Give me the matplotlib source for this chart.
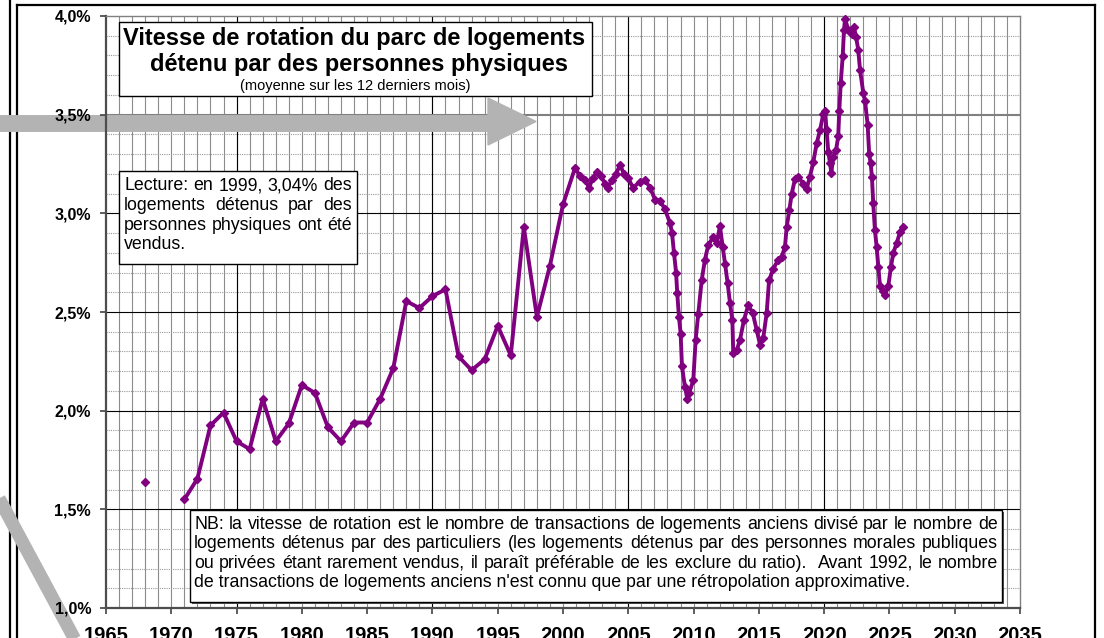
import matplotlib
matplotlib.use("Agg")
import matplotlib.pyplot as plt
import numpy as np
from matplotlib.patches import Rectangle, Polygon
from matplotlib.lines import Line2D

plt.rcParams['font.family'] = ['Liberation Sans', 'DejaVu Sans']

W, H = 1104, 638

# annual values (1969-1970 missing)
annual_years = list(range(1968, 2001))
annual_rate = [1.64, np.nan, np.nan, 1.55, 1.655, 1.925, 1.99, 1.845, 1.805, 2.06,
               1.845, 1.935, 2.13, 2.09, 1.915, 1.845, 1.94, 1.94, 2.06, 2.215,
               2.555, 2.52, 2.58, 2.615, 2.275, 2.205, 2.26, 2.43, 2.28, 2.93,
               2.475, 2.735, 3.045]

# sliding 12-month average
recent_dates = [2000.92, 2001.30, 2001.69, 2001.99, 2002.30, 2002.60, 2002.91, 2003.22,
                2003.45, 2003.75, 2004.06, 2004.37, 2004.67, 2004.98, 2005.36, 2005.89,
                2006.28, 2006.66, 2007.05, 2007.43, 2007.81, 2008.20, 2008.35, 2008.50,
                2008.66, 2008.75, 2008.88, 2009.01, 2009.11, 2009.34, 2009.52, 2009.67,
                2009.98, 2010.16, 2010.36, 2010.62, 2010.87, 2011.13, 2011.51, 2011.77,
                2012.02, 2012.23, 2012.41, 2012.61, 2012.79, 2012.97, 2013.04, 2013.30,
                2013.56, 2013.86, 2014.19, 2014.53, 2014.83, 2015.09, 2015.34, 2015.60,
                2015.78, 2016.11, 2016.49, 2016.75, 2017.00, 2017.13, 2017.33, 2017.52,
                2017.77, 2018.02, 2018.40, 2018.66, 2018.91, 2019.17, 2019.43, 2019.68,
                2019.94, 2020.07, 2020.19, 2020.32, 2020.45, 2020.55, 2020.70, 2020.91,
                2021.08, 2021.16, 2021.27, 2021.42, 2021.52, 2021.60, 2021.85, 2022.10,
                2022.28, 2022.44, 2022.61, 2022.75, 2023.00, 2023.13, 2023.33, 2023.45,
                2023.56, 2023.66, 2023.76, 2023.89, 2024.02, 2024.15, 2024.28, 2024.48,
                2024.66, 2024.91, 2025.12, 2025.30, 2025.56, 2025.81, 2026.06]
recent_rate = [3.23, 3.19, 3.17, 3.13, 3.18, 3.21, 3.19, 3.15,
               3.13, 3.17, 3.20, 3.245, 3.20, 3.18, 3.13, 3.16,
               3.17, 3.13, 3.07, 3.065, 3.02, 2.95, 2.90, 2.80,
               2.70, 2.595, 2.475, 2.39, 2.225, 2.12, 2.06, 2.09,
               2.155, 2.36, 2.49, 2.66, 2.765, 2.84, 2.88, 2.85,
               2.935, 2.83, 2.745, 2.645, 2.545, 2.46, 2.29, 2.305,
               2.36, 2.46, 2.535, 2.495, 2.41, 2.335, 2.37, 2.495,
               2.66, 2.72, 2.765, 2.78, 2.83, 2.93, 3.015, 3.10,
               3.175, 3.185, 3.15, 3.125, 3.185, 3.26, 3.355, 3.42,
               3.505, 3.52, 3.42, 3.31, 3.255, 3.205, 3.285, 3.32,
               3.39, 3.52, 3.66, 3.795, 3.93, 3.985, 3.93, 3.91,
               3.945, 3.895, 3.83, 3.725, 3.61, 3.57, 3.45, 3.30,
               3.255, 3.185, 3.05, 2.915, 2.83, 2.73, 2.63, 2.605,
               2.585, 2.63, 2.73, 2.80, 2.85, 2.905, 2.93]

y_ticks = [1.0, 1.5, 2.0, 2.5, 3.0, 3.5, 4.0]
x_ticks = list(range(1965, 2036, 5))

title_lines = ["Vitesse de rotation du parc de logements",
               "détenu par des personnes physiques"]
subtitle = "(moyenne sur les 12 derniers mois)"
lecture_lines = ["Lecture: en 1999, 3,04% des",
                 "logements détenus par des",
                 "personnes physiques ont été",
                 "vendus."]
nb_lines = ["NB: la vitesse de rotation est le nombre de transactions de logements anciens divisé par le nombre de",
            "logements détenus par des particuliers (les logements détenus par des personnes morales publiques",
            "ou privées étant rarement vendus, il paraît préférable de les exclure du ratio).  Avant 1992, le nombre",
            "de transactions de logements anciens n'est connu que par une rétropolation approximative."]


def fx(x):
    return x / W


def fy(y):
    return 1 - y / H


fig = plt.figure(figsize=(W / 100, H / 100), dpi=100)
ax = fig.add_axes([fx(106), fy(608), (1020 - 106) / W, (608 - 16) / H])
ax.set_autoscale_on(False)
ax.set_xlim(1965, 2035)
ax.set_ylim(1.0, 4.0)

# grid
for yr in range(1966, 2035):
    ax.axvline(yr, color='#8c8c8c', lw=0.8, zorder=0.5)
for yr in (1975, 1990, 2005, 2020):
    ax.axvline(yr, color='black', lw=0.8, zorder=0.6)
for k in range(11, 40):
    v = k / 10
    if k % 5:
        ax.axhline(v, color='#9a9a9a', lw=0.8, ls=(0, (1, 1)), zorder=0.5)
    elif k == 35:
        ax.axhline(v, color='#808080', lw=1.5, zorder=0.6)
    else:
        ax.axhline(v, color='black', lw=0.8, zorder=0.6)

xs = annual_years + recent_dates
ys = annual_rate + recent_rate
ax.plot(xs, ys, color='#800080', lw=2.8, marker='D', ms=4, mec='#800080', mew=1,
        zorder=3, clip_on=False)

for s in ('left', 'bottom'):
    ax.spines[s].set_color('#4d4d4d')
    ax.spines[s].set_linewidth(1.6)
for s in ('top', 'right'):
    ax.spines[s].set_color('#808080')
    ax.spines[s].set_linewidth(1)

ax.set_yticks(y_ticks, [f"{v:.1f}%".replace('.', ',') for v in y_ticks],
              fontsize=11.5, fontweight='bold')
ax.set_xticks(x_ticks, [str(v) for v in x_ticks], fontsize=14.5, fontweight='bold')
ax.tick_params(axis='both', direction='out', length=4.3, width=1.1, color='#333333')
ax.tick_params(axis='x', pad=9)
ax.tick_params(axis='y', pad=6.5)

# grey arrows (under the tick labels, over the outer frame)
ax.add_line(Line2D([fx(-5), fx(489)], [fy(122.5), fy(122.5)], transform=fig.transFigure,
                   color='#b3b3b3', lw=12.2, solid_capstyle='butt', clip_on=False, zorder=1.2))
ax.add_patch(Polygon([(fx(488), fy(98)), (fx(536), fy(121.5)), (fx(488), fy(145))],
                     closed=True, transform=fig.transFigure, color='#b3b3b3',
                     clip_on=False, zorder=1.2))
ax.add_line(Line2D([fx(-12), fx(87)], [fy(478), fy(662)], transform=fig.transFigure,
                   color='#b3b3b3', lw=9.5, solid_capstyle='butt', clip_on=False, zorder=1.2))

# outer frame
for xx, yy in (([10, 10], [0, 640]), ([17, 17], [5, 640]), ([17, 1095], [5, 5]),
               ([1095, 1095], [5, 640])):
    fig.add_artist(Line2D([fx(v) for v in xx], [fy(v) for v in yy], color='black',
                          lw=1.6, zorder=-1))


def box(x0, y0, x1, y1, shadow=False):
    if shadow:
        fig.add_artist(Rectangle((fx(x0 + 2), fy(y1 + 2)), (x1 - x0) / W, (y1 - y0) / H,
                                 transform=fig.transFigure, fc='#555555', ec='none', zorder=1.9))
    fig.add_artist(Rectangle((fx(x0), fy(y1)), (x1 - x0) / W, (y1 - y0) / H,
                             transform=fig.transFigure, fc='white', ec='black', lw=1, zorder=2))


def justified(lines, x0, x1, baselines, size):
    r = fig.canvas.get_renderer()
    for i, (line, yb) in enumerate(zip(lines, baselines)):
        if i == len(lines) - 1:
            fig.text(fx(x0), fy(yb), line, fontsize=size, va='baseline', zorder=3)
            continue
        words = line.split(' ')
        texts = [fig.text(0, fy(yb), w, fontsize=size, va='baseline', zorder=3) for w in words]
        widths = [t.get_window_extent(r).width if w else 0 for t, w in zip(texts, words)]
        gap = (x1 - x0 - sum(widths)) / (len(words) - 1)
        x = x0
        for t, w in zip(texts, widths):
            t.set_x(fx(x))
            x += w + gap


box(119, 22, 592, 95.5)
fig.text(fx(354.5), fy(45.5), title_lines[0], fontsize=17, fontweight='bold',
         ha='center', va='baseline', zorder=3)
fig.text(fx(359.5), fy(71), title_lines[1], fontsize=17, fontweight='bold',
         ha='center', va='baseline', zorder=3)
fig.text(fx(355.5), fy(90), subtitle, fontsize=10.5, ha='center', va='baseline', zorder=3)

box(119, 171, 357, 264)
justified(lecture_lines, 124, 352, [190.5, 210, 229.5, 249], 12.8)

box(190, 510, 1002, 602, shadow=True)
justified(nb_lines, 194, 998, [529, 548.3, 567.5, 586.7], 12.8)

fig.savefig('out.png', dpi=100)
